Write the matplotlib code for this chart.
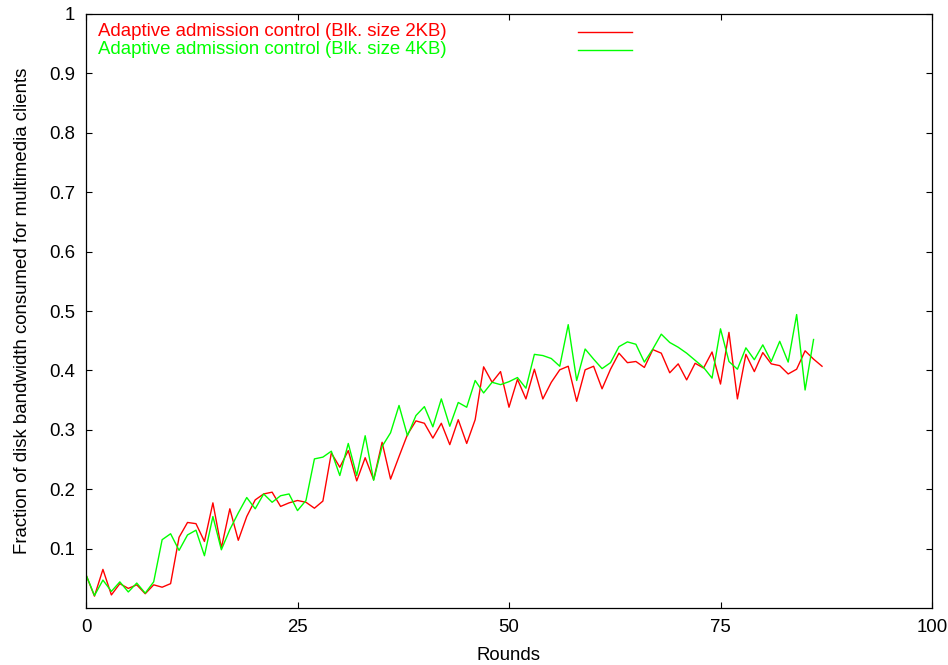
import matplotlib
matplotlib.use("Agg")
import matplotlib.pyplot as plt

plt.rcParams['font.family'] = ['Liberation Sans', 'DejaVu Sans']

# Fraction of disk bandwidth per round
red_2kb = [0.056, 0.020, 0.065, 0.022, 0.041, 0.033, 0.039, 0.024, 0.039, 0.035,
           0.041, 0.119, 0.144, 0.142, 0.112, 0.177, 0.101, 0.167, 0.114, 0.154,
           0.182, 0.192, 0.195, 0.171, 0.177, 0.181, 0.178, 0.168, 0.180, 0.261,
           0.237, 0.265, 0.214, 0.253, 0.216, 0.279, 0.217, 0.255, 0.292, 0.315,
           0.311, 0.286, 0.311, 0.275, 0.317, 0.277, 0.317, 0.406, 0.380, 0.398,
           0.338, 0.385, 0.352, 0.402, 0.352, 0.380, 0.401, 0.407, 0.348, 0.401,
           0.407, 0.369, 0.402, 0.429, 0.413, 0.415, 0.405, 0.435, 0.429, 0.396,
           0.411, 0.384, 0.412, 0.404, 0.431, 0.377, 0.464, 0.352, 0.427, 0.398,
           0.430, 0.411, 0.408, 0.394, 0.402, 0.433, 0.419, 0.407]

green_4kb = [0.056, 0.021, 0.047, 0.028, 0.044, 0.027, 0.042, 0.025, 0.044, 0.115,
             0.125, 0.097, 0.123, 0.131, 0.088, 0.154, 0.098, 0.132, 0.160, 0.186,
             0.167, 0.192, 0.178, 0.189, 0.192, 0.164, 0.181, 0.251, 0.254, 0.264,
             0.223, 0.277, 0.223, 0.290, 0.215, 0.272, 0.295, 0.341, 0.290, 0.324,
             0.339, 0.305, 0.352, 0.306, 0.346, 0.338, 0.383, 0.362, 0.380, 0.376,
             0.381, 0.388, 0.370, 0.427, 0.425, 0.420, 0.407, 0.477, 0.383, 0.436,
             0.419, 0.403, 0.413, 0.440, 0.448, 0.444, 0.414, 0.436, 0.461, 0.447,
             0.439, 0.429, 0.417, 0.405, 0.387, 0.470, 0.415, 0.402, 0.438, 0.418,
             0.443, 0.415, 0.449, 0.414, 0.494, 0.367, 0.452]

rounds_red = list(range(len(red_2kb)))
rounds_green = list(range(len(green_4kb)))

x_ticks = [0, 25, 50, 75, 100]
y_ticks = [0.1, 0.2, 0.3, 0.4, 0.5, 0.6, 0.7, 0.8, 0.9, 1.0]
labels = ["Adaptive admission control (Blk. size 2KB)",
          "Adaptive admission control (Blk. size 4KB)"]
colors = ["#ff0000", "#00ff00"]

W, H = 948, 665
fig = plt.figure(figsize=(W / 100, H / 100), dpi=100)
# axes box in pixels: left 86, right 932, top 14, bottom 608
ax = fig.add_axes([86 / W, (H - 608) / H, 846 / W, 594 / H])

ax.plot(rounds_red, red_2kb, color=colors[0], lw=1.0)
ax.plot(rounds_green, green_4kb, color=colors[1], lw=1.0)

ax.set_xlim(0, 100)
ax.set_ylim(0, 1)
ax.set_xticks(x_ticks)
ax.set_yticks(y_ticks)
ax.set_yticklabels(["%g" % v for v in y_ticks])
ax.tick_params(direction='in', length=4.5, width=0.8, top=True, right=True,
               labelsize=13.4, pad=8)
for s in ax.spines.values():
    s.set_linewidth(0.9)

ax.set_xlabel("Rounds", fontsize=13.4, labelpad=8)
ax.set_ylabel("Fraction of disk bandwidth consumed for multimedia clients",
              fontsize=13.4, labelpad=13)

# gnuplot-style key: text on the left, sample lines on the right
for i, (lab, c) in enumerate(zip(labels, colors)):
    yk = 0.9697 - i * 0.0303
    ax.text(0.0142, yk, lab, color=c, fontsize=13.4, transform=ax.transAxes,
            ha='left', va='center')
    ax.plot([0.5816, 0.6454], [yk, yk], color=c, lw=1.0, transform=ax.transAxes)

fig.savefig("out.png", dpi=100)
